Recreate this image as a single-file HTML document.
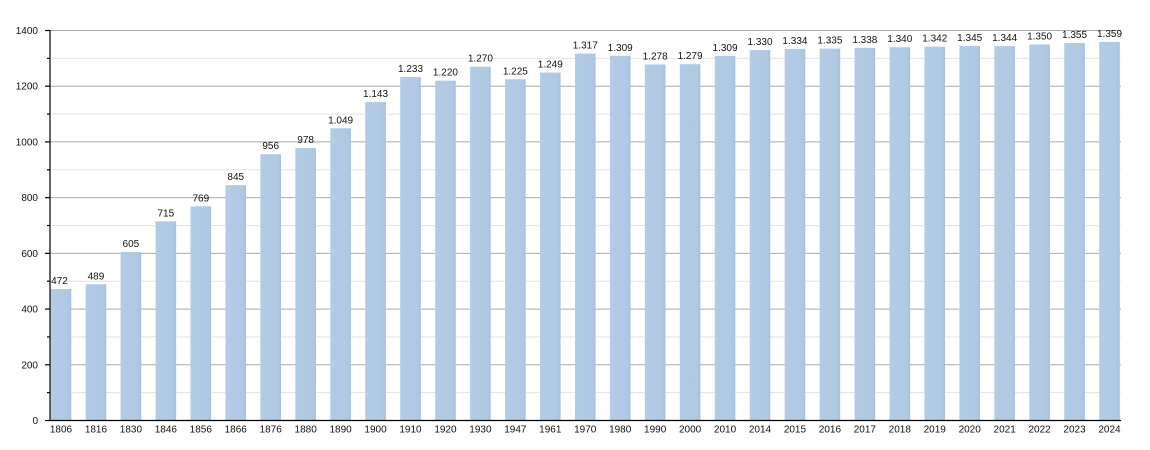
<!DOCTYPE html>
<html><head><meta charset="utf-8"><style>
html,body{margin:0;padding:0;background:#fff;}
svg{display:block;font-family:"Liberation Sans",sans-serif;}
</style></head><body>
<svg width="1150" height="450" viewBox="0 0 1150 450" xmlns="http://www.w3.org/2000/svg">
<defs><linearGradient id="g" x1="0" x2="1" y1="0" y2="0"><stop offset="0" stop-color="#b3cce6"/><stop offset="0.85" stop-color="#b0c9e3"/><stop offset="1" stop-color="#a6c0dc"/></linearGradient></defs>
<g stroke="#e3e3e3" stroke-width="1">
<line x1="50" x2="1121" y1="392.64" y2="392.64"/>
<line x1="50" x2="1121" y1="336.93" y2="336.93"/>
<line x1="50" x2="1121" y1="281.21" y2="281.21"/>
<line x1="50" x2="1121" y1="225.5" y2="225.5"/>
<line x1="50" x2="1121" y1="169.79" y2="169.79"/>
<line x1="50" x2="1121" y1="114.07" y2="114.07"/>
<line x1="50" x2="1121" y1="58.36" y2="58.36"/>
</g>
<g stroke="#aaaaaa" stroke-width="1">
<line x1="50" x2="1121" y1="364.79" y2="364.79"/>
<line x1="50" x2="1121" y1="309.07" y2="309.07"/>
<line x1="50" x2="1121" y1="253.36" y2="253.36"/>
<line x1="50" x2="1121" y1="197.64" y2="197.64"/>
<line x1="50" x2="1121" y1="141.93" y2="141.93"/>
<line x1="50" x2="1121" y1="86.21" y2="86.21"/>
<line x1="50" x2="1121" y1="30.5" y2="30.5"/>
</g>
<g fill="url(#g)">
<rect x="50.7" y="289.01" width="20.6" height="131.49"/>
<rect x="85.65" y="284.28" width="20.6" height="136.22"/>
<rect x="120.6" y="251.96" width="20.6" height="168.54"/>
<rect x="155.55" y="221.32" width="20.6" height="199.18"/>
<rect x="190.5" y="206.28" width="20.6" height="214.22"/>
<rect x="225.45" y="185.11" width="20.6" height="235.39"/>
<rect x="260.4" y="154.19" width="20.6" height="266.31"/>
<rect x="295.35" y="148.06" width="20.6" height="272.44"/>
<rect x="330.3" y="128.28" width="20.6" height="292.22"/>
<rect x="365.25" y="102.09" width="20.6" height="318.41"/>
<rect x="400.2" y="77.02" width="20.6" height="343.48"/>
<rect x="435.15" y="80.64" width="20.6" height="339.86"/>
<rect x="470.1" y="66.71" width="20.6" height="353.79"/>
<rect x="505.05" y="79.25" width="20.6" height="341.25"/>
<rect x="540" y="72.56" width="20.6" height="347.94"/>
<rect x="574.95" y="53.62" width="20.6" height="366.88"/>
<rect x="609.9" y="55.85" width="20.6" height="364.65"/>
<rect x="644.85" y="64.49" width="20.6" height="356.01"/>
<rect x="679.8" y="64.21" width="20.6" height="356.29"/>
<rect x="714.75" y="55.85" width="20.6" height="364.65"/>
<rect x="749.7" y="50" width="20.6" height="370.5"/>
<rect x="784.65" y="48.89" width="20.6" height="371.61"/>
<rect x="819.6" y="48.61" width="20.6" height="371.89"/>
<rect x="854.55" y="47.77" width="20.6" height="372.73"/>
<rect x="889.5" y="47.21" width="20.6" height="373.29"/>
<rect x="924.45" y="46.66" width="20.6" height="373.84"/>
<rect x="959.4" y="45.82" width="20.6" height="374.68"/>
<rect x="994.35" y="46.1" width="20.6" height="374.4"/>
<rect x="1029.3" y="44.43" width="20.6" height="376.07"/>
<rect x="1064.25" y="43.04" width="20.6" height="377.46"/>
<rect x="1099.2" y="41.92" width="20.6" height="378.58"/>
</g>
<g stroke="#000" stroke-width="1.2">
<line x1="50" x2="50" y1="30" y2="421"/>
<line x1="49.5" x2="1121" y1="420.5" y2="420.5"/>
<line x1="45" x2="50" y1="420.5" y2="420.5"/>
<line x1="45" x2="50" y1="364.79" y2="364.79"/>
<line x1="45" x2="50" y1="309.07" y2="309.07"/>
<line x1="45" x2="50" y1="253.36" y2="253.36"/>
<line x1="45" x2="50" y1="197.64" y2="197.64"/>
<line x1="45" x2="50" y1="141.93" y2="141.93"/>
<line x1="45" x2="50" y1="86.21" y2="86.21"/>
<line x1="45" x2="50" y1="30.5" y2="30.5"/>
<line x1="47" x2="50" y1="392.64" y2="392.64"/>
<line x1="47" x2="50" y1="336.93" y2="336.93"/>
<line x1="47" x2="50" y1="281.21" y2="281.21"/>
<line x1="47" x2="50" y1="225.5" y2="225.5"/>
<line x1="47" x2="50" y1="169.79" y2="169.79"/>
<line x1="47" x2="50" y1="114.07" y2="114.07"/>
<line x1="47" x2="50" y1="58.36" y2="58.36"/>
</g>
<g font-size="10" fill="#111" text-anchor="end">
<text x="38" y="424">0</text>
<text x="38" y="368.3">200</text>
<text x="38" y="312.6">400</text>
<text x="38" y="256.9">600</text>
<text x="38" y="201.1">800</text>
<text x="38" y="145.4">1000</text>
<text x="38" y="89.7">1200</text>
<text x="38" y="34">1400</text>
</g>
<g font-size="10" fill="#111" text-anchor="middle">
<text x="61" y="432.5">1806</text>
<text x="95.95" y="432.5">1816</text>
<text x="130.9" y="432.5">1830</text>
<text x="165.85" y="432.5">1846</text>
<text x="200.8" y="432.5">1856</text>
<text x="235.75" y="432.5">1866</text>
<text x="270.7" y="432.5">1876</text>
<text x="305.65" y="432.5">1880</text>
<text x="340.6" y="432.5">1890</text>
<text x="375.55" y="432.5">1900</text>
<text x="410.5" y="432.5">1910</text>
<text x="445.45" y="432.5">1920</text>
<text x="480.4" y="432.5">1930</text>
<text x="515.35" y="432.5">1947</text>
<text x="550.3" y="432.5">1961</text>
<text x="585.25" y="432.5">1970</text>
<text x="620.2" y="432.5">1980</text>
<text x="655.15" y="432.5">1990</text>
<text x="690.1" y="432.5">2000</text>
<text x="725.05" y="432.5">2010</text>
<text x="760" y="432.5">2014</text>
<text x="794.95" y="432.5">2015</text>
<text x="829.9" y="432.5">2016</text>
<text x="864.85" y="432.5">2017</text>
<text x="899.8" y="432.5">2018</text>
<text x="934.75" y="432.5">2019</text>
<text x="969.7" y="432.5">2020</text>
<text x="1004.65" y="432.5">2021</text>
<text x="1039.6" y="432.5">2022</text>
<text x="1074.55" y="432.5">2023</text>
<text x="1109.5" y="432.5">2024</text>
</g>
<g font-size="10" fill="#111" text-anchor="middle">
<text x="59.5" y="284">472</text>
<text x="95.95" y="279.3">489</text>
<text x="130.9" y="247">605</text>
<text x="165.85" y="216.3">715</text>
<text x="200.8" y="201.3">769</text>
<text x="235.75" y="180.1">845</text>
<text x="270.7" y="149.2">956</text>
<text x="305.65" y="143.1">978</text>
<text x="340.6" y="123.3">1.049</text>
<text x="375.55" y="97.1">1.143</text>
<text x="410.5" y="72">1.233</text>
<text x="445.45" y="75.6">1.220</text>
<text x="480.4" y="61.7">1.270</text>
<text x="515.35" y="74.3">1.225</text>
<text x="550.3" y="67.6">1.249</text>
<text x="585.25" y="48.6">1.317</text>
<text x="620.2" y="50.9">1.309</text>
<text x="655.15" y="59.5">1.278</text>
<text x="690.1" y="59.2">1.279</text>
<text x="725.05" y="50.9">1.309</text>
<text x="760" y="45">1.330</text>
<text x="794.95" y="43.9">1.334</text>
<text x="829.9" y="43.6">1.335</text>
<text x="864.85" y="42.8">1.338</text>
<text x="899.8" y="42.2">1.340</text>
<text x="934.75" y="41.7">1.342</text>
<text x="969.7" y="40.8">1.345</text>
<text x="1004.65" y="41.1">1.344</text>
<text x="1039.6" y="39.4">1.350</text>
<text x="1074.55" y="38">1.355</text>
<text x="1109.5" y="36.9">1.359</text>
</g>
</svg>
</body></html>
